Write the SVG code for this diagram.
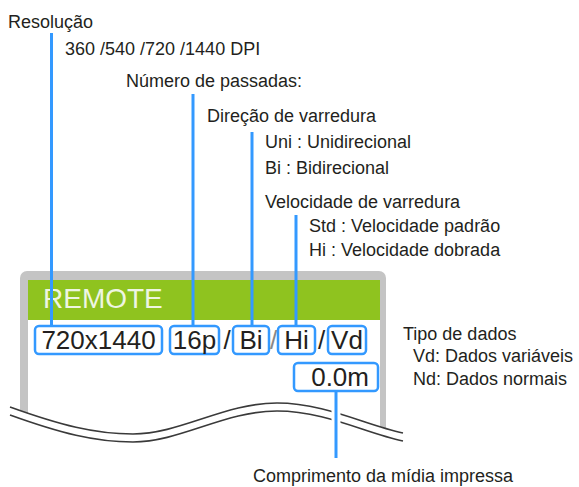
<svg xmlns="http://www.w3.org/2000/svg" width="579" height="487" viewBox="0 0 579 487">
<style>
.lbl{font-family:"Liberation Sans",Arial,sans-serif;font-size:18px;fill:#231f20}
.box{fill:#fff;stroke:#3399ff;stroke-width:2.5}
.bt{font-family:"Liberation Sans",Arial,sans-serif;font-size:26px;fill:#231f20;text-anchor:middle}
.lead{stroke:#3399ff;stroke-width:3;fill:none}
.wave{fill:none;stroke:#3a3a3a;stroke-width:1.6}
</style>
<rect width="579" height="487" fill="#fff"/>
<g id="panel">
  <rect x="20" y="271" width="366" height="190" rx="7" fill="#c4c4c4"/>
  <rect x="28" y="280" width="352" height="180" fill="#fff"/>
  <rect x="28" y="280" width="352" height="40" fill="#8fc31f"/>
  <text x="43" y="308" style="font-family:'Liberation Sans',Arial,sans-serif;font-size:28px;fill:#eef5e2">REMOTE</text>
  <path d="M0,405 L10,407 C60,425 95,434 133,434 C180,434 225,403 277,403 C325,403 365,425 403,433 L420,440 L420,487 L0,487 Z" fill="#fff"/>
  <path class="wave" d="M10,407 C60,425 95,434 133,434 C180,434 225,403 277,403 C325,403 365,425 403,433"/>
  <path class="wave" d="M10,415 C60,433 95,442 133,442 C180,442 225,411 277,411 C325,411 365,433 403,441"/>
</g>
<g id="connectors">
  <line class="lead" x1="51.5" y1="33" x2="51.5" y2="326"/>
  <line class="lead" x1="193" y1="94" x2="193" y2="326"/>
  <line class="lead" x1="252" y1="132" x2="252" y2="326"/>
  <line class="lead" x1="296" y1="215" x2="296" y2="326"/>
  <line x1="336" y1="398" x2="336" y2="450" stroke="#fff" stroke-width="9"/>
  <line class="lead" x1="336" y1="391" x2="336" y2="458"/>
</g>
<g id="resolution">
  <rect class="box" x="35" y="326" width="127" height="28" rx="4"/>
  <text class="bt" x="98.5" y="349">720x1440</text>
</g>
<g id="passes">
  <rect class="box" x="170" y="326" width="49" height="28" rx="4"/>
  <text class="bt" x="194.5" y="349">16p</text>
</g>
<text class="bt" x="227" y="349">/</text>
<g id="direction">
  <rect class="box" x="233" y="326" width="36" height="28" rx="4"/>
  <text class="bt" x="251" y="349">Bi</text>
</g>
<text class="bt" x="273.5" y="349" style="fill:#888">/</text>
<g id="speed">
  <rect class="box" x="278" y="326" width="37" height="28" rx="4"/>
  <text class="bt" x="296.5" y="349">Hi</text>
</g>
<text class="bt" x="321.5" y="349">/</text>
<g id="datatype">
  <rect class="box" x="328" y="326" width="38" height="28" rx="4"/>
  <text class="bt" x="347" y="349">Vd</text>
</g>
<g id="length">
  <rect class="box" x="294" y="363" width="84" height="28" rx="4"/>
  <text class="bt" x="369" y="386" style="text-anchor:end">0.0m</text>
</g>
<g id="labels">
  <text class="lbl" x="8" y="28">Resolução</text>
  <text class="lbl" x="65" y="55">360 /540 /720 /1440 DPI</text>
  <text class="lbl" x="126" y="87">Número de passadas:</text>
  <text class="lbl" x="207" y="122">Direção de varredura</text>
  <text class="lbl" x="265" y="148">Uni : Unidirecional</text>
  <text class="lbl" x="265" y="174">Bi : Bidirecional</text>
  <text class="lbl" x="265" y="208">Velocidade de varredura</text>
  <text class="lbl" x="309" y="232">Std : Velocidade padrão</text>
  <text class="lbl" x="309" y="256">Hi : Velocidade dobrada</text>
  <text class="lbl" x="403" y="340">Tipo de dados</text>
  <text class="lbl" x="413" y="362">Vd: Dados variáveis</text>
  <text class="lbl" x="413" y="385">Nd: Dados normais</text>
  <text class="lbl" x="253" y="482">Comprimento da mídia impressa</text>
</g>
</svg>
